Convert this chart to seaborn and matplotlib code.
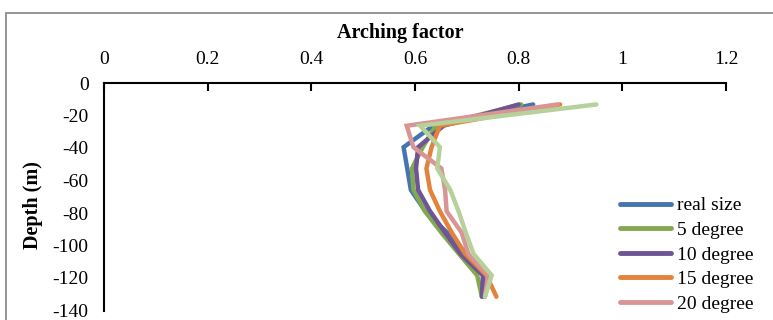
import matplotlib
matplotlib.use("Agg")
import matplotlib.pyplot as plt
from matplotlib.patches import Rectangle
import pandas as pd
import seaborn as sns

# Depth of each sampled layer (m) and arching factor per model
depths = [-13.2, -26.3, -39.5, -52.6, -65.8, -78.9, -92.1, -105.2, -118.4, -131.5]
real_size = [0.828, 0.635, 0.578, 0.585, 0.592, 0.620, 0.662, 0.700, 0.735, 0.733]
deg5 = [0.805, 0.640, 0.615, 0.594, 0.597, 0.619, 0.651, 0.685, 0.720, 0.729]
deg10 = [0.800, 0.655, 0.606, 0.602, 0.606, 0.629, 0.658, 0.688, 0.731, 0.729]
deg15 = [0.880, 0.648, 0.632, 0.622, 0.629, 0.648, 0.671, 0.697, 0.738, 0.757]
deg20 = [0.875, 0.584, 0.597, 0.651, 0.658, 0.661, 0.690, 0.703, 0.741, 0.735]
deg25 = [0.950, 0.610, 0.648, 0.643, 0.668, 0.684, 0.698, 0.713, 0.748, 0.735]

series_names = ["real size", "5 degree", "10 degree", "15 degree", "20 degree", "25 degree"]
series_values = [real_size, deg5, deg10, deg15, deg20, deg25]
colors = ["#4674b0", "#82a94f", "#6f5596", "#e3823b", "#d99595", "#b7d19a"]

x_ticks = [0, 0.2, 0.4, 0.6, 0.8, 1.0, 1.2]
x_ticklabels = ["0", "0.2", "0.4", "0.6", "0.8", "1", "1.2"]
y_ticks = [0, -20, -40, -60, -80, -100, -120, -140]

rows = []
for name, vals in zip(series_names, series_values):
    for i, (d, v) in enumerate(zip(depths, vals)):
        rows.append({"series": name, "order": i, "Depth": d, "Arching factor": v})
df = pd.DataFrame(rows)

sns.set_style("white")
plt.rcParams["font.family"] = ["Liberation Serif", "DejaVu Serif"]
plt.rcParams["text.color"] = "black"
plt.rcParams["axes.labelcolor"] = "black"
FS = 14

fig = plt.figure(figsize=(7.73, 3.2), dpi=100)
ax = fig.add_axes([104 / 773, 1 - 310.5 / 320, 622 / 773, 227.5 / 320])

sns.lineplot(
    data=df, x="Arching factor", y="Depth", hue="series",
    hue_order=series_names, palette=colors, sort=False, estimator=None,
    units="series", linewidth=3.2, solid_capstyle="round",
    solid_joinstyle="miter", ax=ax, legend=True,
)

ax.set_xlim(0, 1.2)
ax.set_ylim(-140, 0)
ax.set_xticks(x_ticks)
ax.set_xticklabels(x_ticklabels)
ax.set_yticks(y_ticks)
ax.set_yticklabels([str(t) for t in y_ticks])

ax.xaxis.tick_top()
ax.xaxis.set_label_position("top")
ax.set_xlabel("Arching factor", fontsize=FS + 0.5, fontweight="bold", color="black")
ax.set_ylabel("Depth (m)", fontsize=FS + 0.5, fontweight="bold", color="black")
ax.xaxis.set_label_coords((400 - 104) / 622, (310.5 - 38) / 227.5)
ax.yaxis.set_label_coords((43 - 104) / 622, (310.5 - 205) / 227.5)

ax.tick_params(axis="x", which="major", direction="in", length=6, width=1.5,
               labelsize=FS, pad=11, colors="black")
ax.tick_params(axis="y", which="major", direction="out", length=6, width=1.5,
               labelsize=FS, pad=5, colors="black")

for side in ["right", "bottom"]:
    ax.spines[side].set_visible(False)
for side in ["top", "left"]:
    ax.spines[side].set_visible(True)
    ax.spines[side].set_color("black")
    ax.spines[side].set_linewidth(1.5)
ax.grid(False)

handles, labels = ax.get_legend_handles_labels()
leg = ax.legend(
    handles[:5], labels[:5], loc="upper left", frameon=False, fontsize=FS,
    bbox_to_anchor=(612 / 773, 1 - 189 / 320), bbox_transform=fig.transFigure,
    handlelength=2.63, handletextpad=0.3, labelspacing=0.36, borderaxespad=0,
)
for line in leg.get_lines():
    line.set_linewidth(3.5)
    line.set_solid_capstyle("round")
for txt in leg.get_texts():
    txt.set_color("black")

# outer chart frame
fig.patches.append(Rectangle((6.5 / 773, -0.1), 1.2, 1 - 12.5 / 320 + 0.1,
                             transform=fig.transFigure, fill=False,
                             edgecolor="#8c8c8c", linewidth=1.3))

fig.savefig("out.png", dpi=100)
